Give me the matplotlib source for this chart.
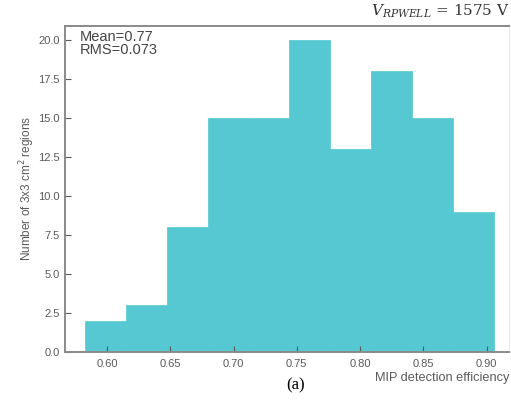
import matplotlib.pyplot as plt
import numpy as np

plt.rcParams['font.family'] = ['Liberation Sans', 'DejaVu Sans']

# histogram bin edges and counts
edges = np.array([0.5826, 0.6149, 0.6472, 0.6795, 0.7118, 0.7441,
                  0.7764, 0.8087, 0.8410, 0.8733, 0.9056])
counts = np.array([2, 3, 8, 15, 15, 20, 13, 18, 15, 9])
xticks = [0.60, 0.65, 0.70, 0.75, 0.80, 0.85, 0.90]
yticks = [0.0, 2.5, 5.0, 7.5, 10.0, 12.5, 15.0, 17.5, 20.0]

grey = '#5a5a5a'

fig = plt.figure(figsize=(5.11, 4.01), dpi=100)
ax = fig.add_axes([0.127, 0.122, 0.870, 0.814])

ax.bar(edges[:-1], counts, width=np.diff(edges), align='edge',
       color='#55c8d1', edgecolor='#55c8d1', linewidth=0.5)

ax.set_xlim(0.5668, 0.918)
ax.set_ylim(0, 20.94)
ax.set_xticks(xticks)
ax.set_xticklabels(['%.2f' % t for t in xticks])
ax.set_yticks(yticks)
ax.set_yticklabels(['%.1f' % t for t in yticks])
ax.tick_params(direction='in', length=4, width=0.8, colors=grey,
               labelsize=8, labelcolor=grey)
ax.tick_params(axis='x', pad=5)

for side in ['left', 'bottom', 'top']:
    ax.spines[side].set_color('#8a8a8a')
    ax.spines[side].set_linewidth(1.4)
ax.spines['right'].set_color('#ececec')
ax.spines['right'].set_linewidth(0.8)

ax.set_ylabel('Number of 3x3 cm$^2$ regions', color=grey, fontsize=8.5)
ax.yaxis.set_label_coords(-0.062, 0.5)
ax.set_xlabel('MIP detection efficiency', color=grey, fontsize=9.2, ha='right')
ax.xaxis.set_label_coords(1.0, -0.062)

ax.text(0.033, 0.988, 'Mean=0.77\nRMS=0.073', transform=ax.transAxes,
        ha='left', va='top', fontsize=10.5, color='#444444', linespacing=0.92)

fig.text(0.998, 0.972, r'$V_{RPWELL}$ = 1575 V', ha='right', va='center',
         fontsize=11, color='#333333', family='DejaVu Serif',
         math_fontfamily='dejavuserif')
fig.text(0.578, 0.04, '(a)', ha='center', va='center', fontsize=12,
         family='Liberation Serif', color='black')

fig.savefig('out.png', dpi=100)
